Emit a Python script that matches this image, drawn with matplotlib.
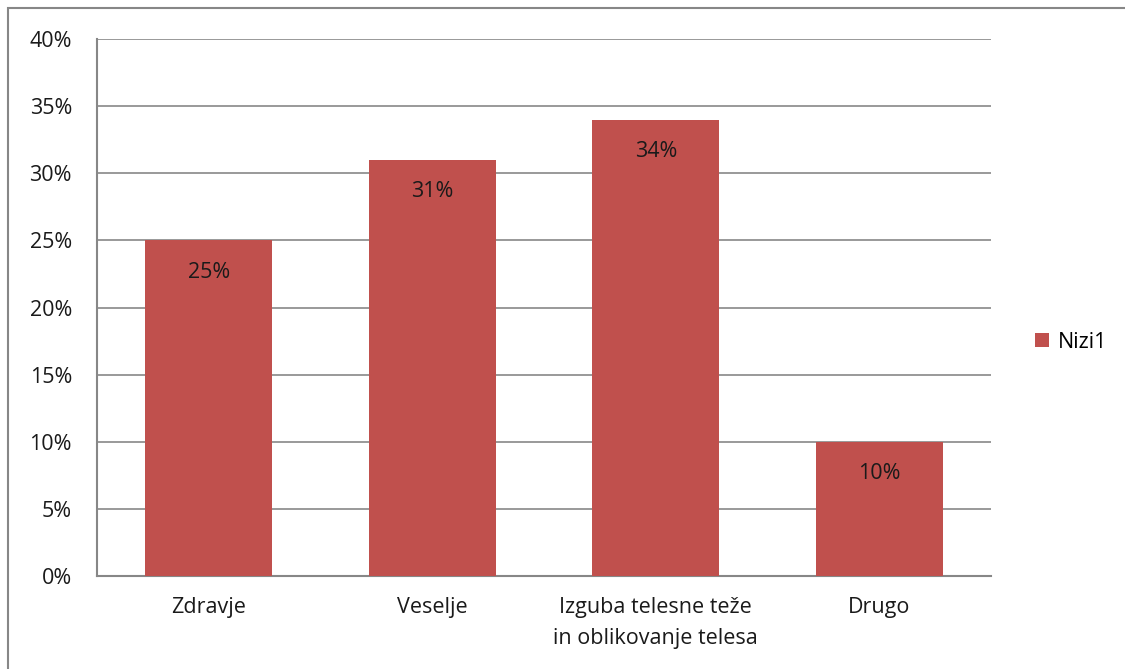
import matplotlib.pyplot as plt
from matplotlib.patches import Rectangle

categories = ['Zdravje', 'Veselje', 'Izguba telesne teže\nin oblikovanje telesa', 'Drugo']
values = [25, 31, 34, 10]
series_name = 'Nizi1'
yticks = [0, 5, 10, 15, 20, 25, 30, 35, 40]

plt.rcParams['font.family'] = ['Open Sans', 'DejaVu Sans']
FS = 15.5

fig = plt.figure(figsize=(11.25, 6.69), dpi=100)
ax = fig.add_axes([97 / 1125, 93 / 669, 894 / 1125, 537 / 669])

# outer chart frame
fig.patches.append(Rectangle((8 / 1125, -0.01), 1.1, (661 / 669) + 0.01,
                             transform=fig.transFigure, fill=False,
                             edgecolor='#878787', linewidth=1.5))

x = range(len(categories))
bars = ax.bar(x, values, width=0.57, color='#C0504D', label=series_name, zorder=3)

for xi, v in zip(x, values):
    ax.text(xi, v - 1.6, '{}%'.format(v), ha='center', va='top', fontsize=FS, color='#1a1a1a', zorder=4)

ax.set_xlim(-0.5, len(categories) - 0.5)
ax.set_ylim(0, 40)
ax.set_yticks(yticks)
ax.set_yticklabels(['{}%'.format(t) for t in yticks], fontsize=FS)
ax.set_xticks(list(x))
ax.set_xticklabels(categories, fontsize=FS, linespacing=1.65)
ax.tick_params(axis='both', length=0, colors='#1a1a1a')
ax.tick_params(axis='y', pad=18)
ax.tick_params(axis='x', pad=15)

ax.yaxis.grid(True, color='#878787', linewidth=1.2, zorder=0)
ax.set_axisbelow(True)
for s in ['top', 'right']:
    ax.spines[s].set_visible(False)
for s in ['left', 'bottom']:
    ax.spines[s].set_color('#878787')
    ax.spines[s].set_linewidth(1.5)

leg = fig.legend(handles=[bars], labels=[series_name], loc='center left',
                 bbox_to_anchor=(1016 / 1125, 1 - 342 / 669), frameon=False,
                 fontsize=FS, handlelength=0.65, handleheight=0.65, handletextpad=0.4)

fig.savefig('out.png', dpi=100)
